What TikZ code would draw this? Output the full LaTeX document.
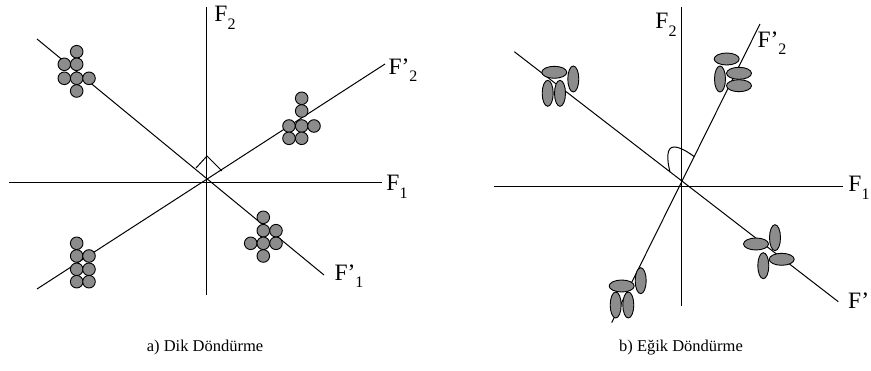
\documentclass[tikz,border=0pt]{standalone}
\usepackage{fontspec}
\setmainfont{Liberation Serif}
\definecolor{blobgray}{RGB}{140,140,140}
\newcommand{\lab}[2]{#1\raisebox{-0.32em}{\fontsize{16}{16}\selectfont #2}}
\tikzset{
  axisline/.style={line width=1pt, black},
  blob/.style={fill=blobgray, draw=black, line width=0.9pt},
  axlabel/.style={inner sep=0pt, font=\fontsize{23.5}{23.5}\selectfont},
  caption/.style={inner sep=0pt, anchor=base, font=\fontsize{16.5}{16.5}\selectfont}
}
\begin{document}
\begin{tikzpicture}[x=1pt,y=-1pt]
\useasboundingbox (0,0) rectangle (871,371);
% ---------- left panel ----------
\coordinate (aF2t) at (206,7);   \coordinate (aF2b) at (206,295);
\coordinate (aF1l) at (9,183);   \coordinate (aF1r) at (382,183);
\coordinate (aP1a) at (37,39);   \coordinate (aP1b) at (324,275);
\coordinate (aP2a) at (37,289);  \coordinate (aP2b) at (385,64);
\coordinate (aRa) at (196,168); \coordinate (aRm) at (207,156); \coordinate (aRb) at (222,171);
\draw[axisline] (aF2t) -- (aF2b);
\draw[axisline] (aF1l) -- (aF1r);
\draw[axisline] (aP1a) -- (aP1b);
\draw[axisline] (aP2a) -- (aP2b);
\draw[axisline] (aRa) -- (aRm) -- (aRb);
% clusters of circles
\foreach \p in {(76.7,51.7),(64.3,64.3),(76.7,64.3),(64.3,78.3),(76.7,78.3),(89,78.3),(76.7,91)}
  \draw[blob] \p circle (6.3);
\foreach \p in {(301.7,98.3),(301.7,111),(289,126),(301.7,126),(314,126),(289,138.3),(301.7,138.3)}
  \draw[blob] \p circle (6.3);
\foreach \p in {(263.3,217.3),(263.3,230.7),(276,230.7),(250.7,243.3),(263.3,243.3),(276,243.3),(263.3,256)}
  \draw[blob] \p circle (6.3);
\foreach \p in {(76.7,243.3),(76.7,256),(89,256),(76.7,269.3),(89,269.3),(76.7,281.7),(89,281.7)}
  \draw[blob] \p circle (6.3);
\node[axlabel] (aLF2) at (225,18) {\lab{F}{2}};
\node[axlabel] (aLF1) at (397,187) {\lab{F}{1}};
\node[axlabel] (aLP2) at (403,70) {\lab{F’}{2}};
\node[axlabel] (aLP1) at (349,276) {\lab{F’}{1}};
\node[caption] (capa) at (205,352) {a) Dik Döndürme};
% ---------- right panel ----------
\coordinate (bF2t) at (681.7,7);   \coordinate (bF2b) at (681.7,306);
\coordinate (bF1l) at (494.3,186.7); \coordinate (bF1r) at (843.3,186.7);
\coordinate (bP1a) at (514.3,51.7); \coordinate (bP1b) at (838.3,301.7);
\coordinate (bP2a) at (760,24);     \coordinate (bP2b) at (611.7,322.7);
\coordinate (bAa) at (670,172);     \coordinate (bAb) at (694.3,156.7);
\draw[axisline] (bF2t) -- (bF2b);
\draw[axisline] (bF1l) -- (bF1r);
\draw[axisline] (bP1a) -- (bP1b);
\draw[axisline] (bP2a) -- (bP2b);
\draw[axisline] (bAa) .. controls (667,160) and (666,147) .. (674,147)
                      .. controls (680,147) and (688,152) .. (bAb);
% clusters of ellipses
\draw[blob] (573.3,79) ellipse (5.5 and 13);
\draw[blob] (554.3,72.3) ellipse (12.5 and 6);
\draw[blob] (547.7,93.3) ellipse (5.5 and 13);
\draw[blob] (560,93.3) ellipse (5.5 and 13);
%
\draw[blob] (726.7,59) ellipse (12.5 and 6);
\draw[blob] (720,79) ellipse (5.5 and 13);
\draw[blob] (739,73.3) ellipse (12.5 and 6);
\draw[blob] (739,85.7) ellipse (12.5 and 6);
%
\draw[blob] (640.7,280.7) ellipse (5.5 and 13);
\draw[blob] (621.7,286) ellipse (12.5 and 6);
\draw[blob] (615.7,305) ellipse (5.5 and 13);
\draw[blob] (628.3,305) ellipse (5.5 and 13);
%
\draw[blob] (775,237.7) ellipse (5.5 and 13);
\draw[blob] (756,244) ellipse (12.5 and 6);
\draw[blob] (763.3,265.7) ellipse (5.5 and 13);
\draw[blob] (781.7,259.3) ellipse (12.5 and 6);
\node[axlabel] (bLF2) at (666,25) {\lab{F}{2}};
\node[axlabel] (bLF1) at (859,188) {\lab{F}{1}};
\node[axlabel] (bLP2) at (772,43) {\lab{F’}{2}};
\node[axlabel, anchor=west] (bLP1) at (848,301) {F’};
\node[caption] (capb) at (681,352) {b) Eğik Döndürme};
\end{tikzpicture}
\end{document}
